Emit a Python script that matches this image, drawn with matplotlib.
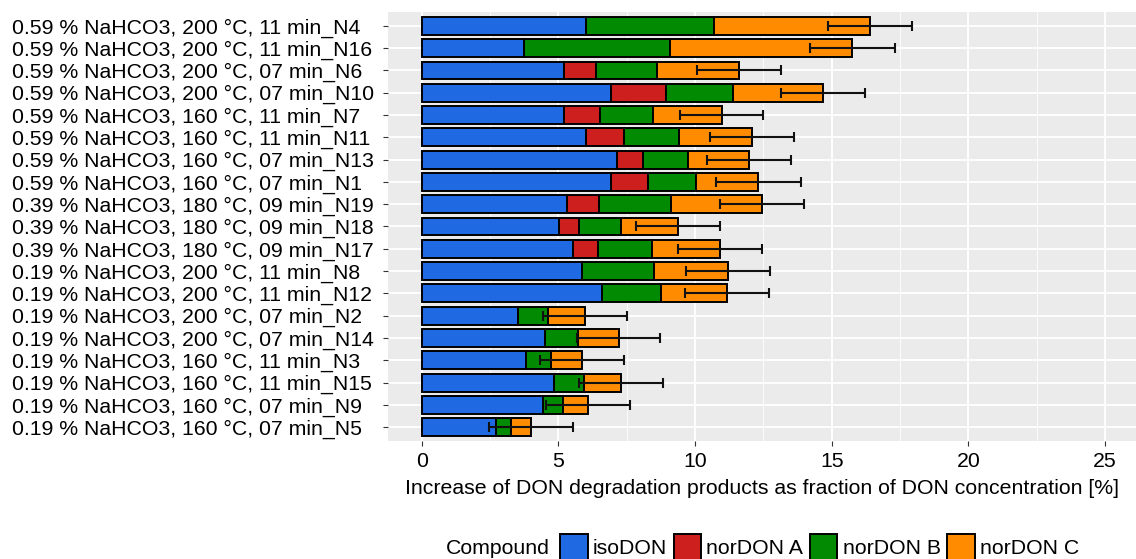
import numpy as np
import matplotlib
matplotlib.use('Agg')
import matplotlib.pyplot as plt
from matplotlib.patches import Patch

plt.rcParams['font.family'] = ['Liberation Sans', 'DejaVu Sans']

# ── data (top row first) ─────────────────────────
samples = [
    '0.59 % NaHCO3, 200 °C, 11 min_N4',
    '0.59 % NaHCO3, 200 °C, 11 min_N16',
    '0.59 % NaHCO3, 200 °C, 07 min_N6',
    '0.59 % NaHCO3, 200 °C, 07 min_N10',
    '0.59 % NaHCO3, 160 °C, 11 min_N7',
    '0.59 % NaHCO3, 160 °C, 11 min_N11',
    '0.59 % NaHCO3, 160 °C, 07 min_N13',
    '0.59 % NaHCO3, 160 °C, 07 min_N1',
    '0.39 % NaHCO3, 180 °C, 09 min_N19',
    '0.39 % NaHCO3, 180 °C, 09 min_N18',
    '0.39 % NaHCO3, 180 °C, 09 min_N17',
    '0.19 % NaHCO3, 200 °C, 11 min_N8',
    '0.19 % NaHCO3, 200 °C, 11 min_N12',
    '0.19 % NaHCO3, 200 °C, 07 min_N2',
    '0.19 % NaHCO3, 200 °C, 07 min_N14',
    '0.19 % NaHCO3, 160 °C, 11 min_N3',
    '0.19 % NaHCO3, 160 °C, 11 min_N15',
    '0.19 % NaHCO3, 160 °C, 07 min_N9',
    '0.19 % NaHCO3, 160 °C, 07 min_N5',
]
isodon  = [6.03, 3.76, 5.22, 6.92, 5.22, 6.03, 7.14, 6.94, 5.31, 5.03, 5.54, 5.86, 6.58, 3.54, 4.52, 3.82, 4.86, 4.43, 2.72]
nordonA = [0.00, 0.00, 1.14, 2.01, 1.32, 1.39, 0.96, 1.33, 1.18, 0.73, 0.92, 0.00, 0.00, 0.00, 0.00, 0.00, 0.00, 0.00, 0.00]
nordonB = [4.66, 5.33, 2.26, 2.47, 1.93, 2.01, 1.65, 1.76, 2.62, 1.54, 1.97, 2.64, 2.17, 1.10, 1.19, 0.91, 1.09, 0.75, 0.56]
nordonC = [5.70, 6.67, 2.98, 3.27, 2.50, 2.66, 2.22, 2.29, 3.33, 2.07, 2.49, 2.72, 2.41, 1.34, 1.50, 1.13, 1.35, 0.90, 0.72]
err     = [1.53, 1.55, 1.54, 1.54, 1.53, 1.54, 1.54, 1.54, 1.53, 1.54, 1.54, 1.54, 1.53, 1.53, 1.52, 1.53, 1.54, 1.54, 1.53]

compounds = ['isoDON', 'norDON A', 'norDON B', 'norDON C']
colors = ['#1F69E3', '#CE1F1F', '#038A03', '#FF8C00']

# ── figure ───────────────────────────────────────
W, H = 1136, 559
fs = 15.3
fig = plt.figure(figsize=(W / 100, H / 100), dpi=100)
px_l, px_r, px_t, px_b = 388, 1136, 12, 441
ax = fig.add_axes([px_l / W, 1 - px_b / H, (px_r - px_l) / W, (px_b - px_t) / H])
ax.set_facecolor('#EBEBEB')

n = len(samples)
y = np.arange(n)[::-1]
series = [isodon, nordonA, nordonB, nordonC]
left = np.zeros(n)
for vals, col in zip(series, colors):
    vals = np.array(vals)
    m = vals > 0
    ax.barh(y[m], vals[m], left=left[m], height=0.8, color=col,
            edgecolor='black', linewidth=1.4, zorder=3)
    left += vals

ax.errorbar(left, y, xerr=err, fmt='none', ecolor='#111111',
            elinewidth=1.5, capsize=3.4, capthick=1.5, zorder=4)

ax.set_xlim(-1.23, 26.13)
ax.set_ylim(-0.62, n - 1 + 0.62)
ax.set_xticks([0, 5, 10, 15, 20, 25])
ax.set_xticks([2.5, 7.5, 12.5, 17.5, 22.5], minor=True)
ax.set_yticks(y)
ax.set_yticklabels(samples)
ax.grid(True, which='major', color='white', linewidth=1.3, zorder=0)
ax.grid(True, which='minor', axis='x', color='white', linewidth=0.6, zorder=0)
ax.set_axisbelow(True)
for s in ax.spines.values():
    s.set_visible(False)

tick_len = 3.5
ax.tick_params(axis='both', which='major', labelsize=fs, length=tick_len,
               color='#333333', labelcolor='black')
ax.tick_params(axis='x', which='major', pad=4.5)
# left-aligned y labels starting at x = 12 px
ax.tick_params(axis='y', which='major', pad=(px_l - 12) * 0.72 - tick_len)
for lab in ax.get_yticklabels():
    lab.set_horizontalalignment('left')
ax.tick_params(axis='x', which='minor', length=0)
ax.set_xlabel('Increase of DON degradation products as fraction of DON concentration [%]',
              fontsize=fs, labelpad=6)

# ── legend ───────────────────────────────────────
fig.text(446 / W, 1 - 548 / H, 'Compound', fontsize=fs, va='center', ha='left')
handles = [Patch(facecolor=c, edgecolor='black', linewidth=1.4) for c in colors]
fig.legend(handles, compounds, loc='center left', bbox_to_anchor=(560 / W, 1 - 547 / H),
           ncol=4, frameon=False, fontsize=fs, handlelength=1.3, handleheight=1.45,
           handletextpad=0.25, columnspacing=0.3, borderpad=0, borderaxespad=0)

fig.savefig('out.png', dpi=100)
